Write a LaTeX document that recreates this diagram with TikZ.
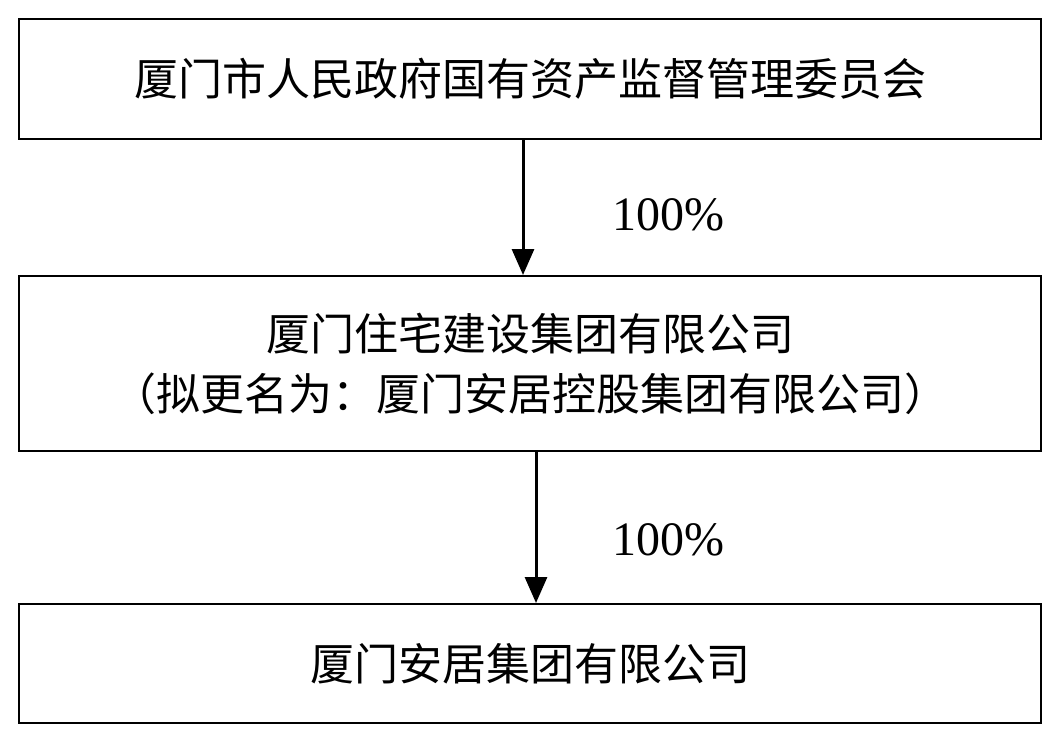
\documentclass[tikz,border=0pt]{standalone}
\usepackage{fontspec}
\setmainfont{Liberation Serif}
\newfontfamily\cjk{Noto Sans CJK SC}
\usetikzlibrary{arrows.meta}
\begin{document}
\begin{tikzpicture}[x=1pt,y=-1pt,
  box/.style={draw,line width=2.2pt,minimum width=1022pt,anchor=north west,inner sep=0pt,font=\cjk\fontsize{44}{60}\selectfont,align=center},
  arr/.style={line width=3pt,-{Triangle[length=26pt,width=22pt]}},
  pct/.style={font=\fontsize{48}{52}\selectfont}]
\useasboundingbox (0,0) rectangle (1056,744);
\node[box,minimum height=120pt] (a) at (18,18) {厦门市人民政府国有资产监督管理委员会};
\node[box,minimum height=175pt] (b) at (18,275) {厦门住宅建设集团有限公司\\（拟更名为：厦门安居控股集团有限公司）};
\node[box,minimum height=119pt] (c) at (18,603) {厦门安居集团有限公司};
\coordinate (a1) at (523,138); \coordinate (b1) at (523,275);
\coordinate (b2) at (536,450); \coordinate (c2) at (536,603);
\draw[arr] (a1) -- (b1);
\draw[arr] (b2) -- (c2);
\node[pct] (p1) at (668,215) {100\%};
\node[pct] (p2) at (668,540) {100\%};
\end{tikzpicture}
\end{document}
